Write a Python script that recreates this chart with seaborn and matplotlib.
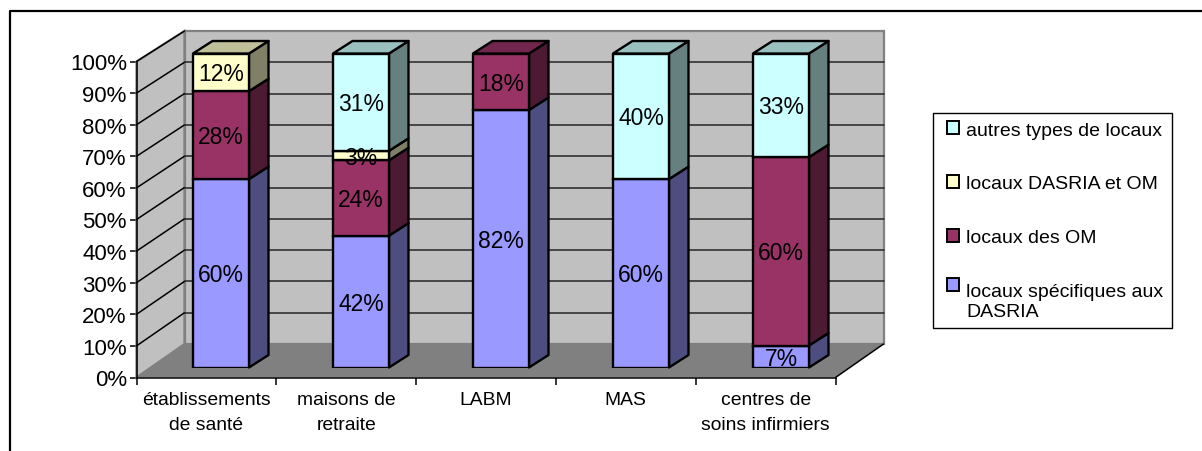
import matplotlib
matplotlib.use("Agg")
import matplotlib.pyplot as plt
from matplotlib.lines import Line2D
from matplotlib.patches import Patch, Polygon
import pandas as pd
import seaborn as sns

# Survey results: share of each storage-room type per kind of facility
categories = ["établissements\nde santé", "maisons de\nretraite", "LABM", "MAS",
              "centres de\nsoins infirmiers"]
specifiques = [60, 42, 82, 60, 7]
locaux_om = [28, 24, 18, 0, 60]
dasria_om = [12, 3, 0, 0, 0]
autres = [0, 31, 0, 40, 33]

series_names = ["locaux spécifiques aux\nDASRIA", "locaux des OM",
                "locaux DASRIA et OM", "autres types de locaux"]
series_values = [specifiques, locaux_om, dasria_om, autres]
front_colors = ["#9999FF", "#993366", "#FFFFCC", "#CCFFFF"]
side_colors = ["#4D4D80", "#4D1A33", "#808066", "#668080"]
top_colors = ["#7373BF", "#73264D", "#BFBF99", "#99BFBF"]
y_ticks = list(range(0, 101, 10))

W, H = 1202, 452
sns.set_theme(style="white")
plt.rcParams["font.family"] = ["Liberation Sans", "DejaVu Sans"]


def box(left, top, right, bottom):
    """Axes rectangle from pixel edges measured from the top-left corner."""
    return [left / W, 1 - bottom / H, (right - left) / W, (bottom - top) / H]


fig = plt.figure(figsize=(W / 100, H / 100), dpi=100, facecolor="white")
# Outer frame: only the top and left edges fall inside the canvas
fig.add_artist(Line2D([10 / W, 10 / W, 1], [0, 1 - 12 / H, 1 - 12 / H], color="black",
                      linewidth=1.6, transform=fig.transFigure))

# Front plane of the 3D box: carries the axes, ticks and walls
frame = fig.add_axes(box(136.5, 62.5, 835.5, 378.5), facecolor="none")
frame.set_xlim(0, 5)
frame.set_ylim(0, 100)
px = 5 / 699
py = 100 / 316
depth_x = 48 * px
depth_y = 33.5 * py
back_span = 313 / 316

wall_kw = dict(clip_on=False, zorder=1)
frame.add_patch(Polygon([(0, 0), (0, 100), (depth_x, depth_y + 100 * back_span), (depth_x, depth_y)],
                        facecolor="#C0C0C0", edgecolor="#808080", linewidth=1.6, **wall_kw))
frame.add_patch(Polygon([(depth_x, depth_y), (depth_x, depth_y + 100 * back_span),
                         (5 + depth_x, depth_y + 100 * back_span), (5 + depth_x, depth_y)],
                        facecolor="#C0C0C0", edgecolor="#808080", linewidth=1.6, **wall_kw))
frame.add_patch(Polygon([(0, 0), (depth_x, depth_y), (5 + depth_x, depth_y), (5, 0)],
                        facecolor="#808080", edgecolor="none", **wall_kw))
frame.plot([5, 5 + depth_x], [0, depth_y], color="black", lw=1.1, clip_on=False, zorder=2)

for tick in y_ticks[1:]:
    back_y = depth_y + tick * back_span
    frame.plot([0, depth_x], [tick, back_y], color="black", lw=1.1, clip_on=False, zorder=2)
    if tick < 100:
        frame.plot([depth_x, 5 + depth_x], [back_y, back_y], color="#262626", lw=1.1,
                   clip_on=False, zorder=2)

frame.set_yticks(y_ticks, [f"{t}%" for t in y_ticks], fontsize=16, color="black")
frame.set_xticks(range(6), [""] * 6)
frame.set_xticks([i + 0.5 for i in range(5)], categories, minor=True, fontsize=13.9, color="black",
                 linespacing=1.55)
frame.tick_params(axis="y", length=5, width=1.1, pad=2, color="black", left=True)
frame.tick_params(axis="x", which="major", length=5, width=1.1, color="black", bottom=True)
frame.tick_params(axis="x", which="minor", length=0, pad=10)
sns.despine(ax=frame, top=True, right=True)
for side in ("left", "bottom"):
    frame.spines[side].set_color("black")
    frame.spines[side].set_linewidth(1.1)
    frame.spines[side].set_zorder(3)

# Plane holding the bar fronts, set back from the axes plane
ax = fig.add_axes(box(151, 54.5, 851, 368.5), facecolor="none")
table = pd.DataFrame({"categorie": categories, **dict(zip(series_names, series_values))})
long_table = table.melt("categorie", var_name="type", value_name="part")
running = [0] * len(categories)
bases = []
for values in series_values:
    bases.extend(running)
    running = [r + v for r, v in zip(running, values)]
long_table["base"] = bases

bar_width = 56 / 140
off_x = 19.5 / 140
off_y = 12.5 * 100 / 314

for name, front, side, top in zip(series_names, front_colors, side_colors, top_colors):
    rows = long_table[(long_table["type"] == name) & (long_table["part"] > 0)]
    sns.barplot(data=rows, x="categorie", y="part", order=categories, color=front, saturation=1,
                width=bar_width, bottom=rows["base"].to_numpy(), errorbar=None,
                edgecolor="black", linewidth=1.7, ax=ax, zorder=6)
    for _, row in rows.iterrows():
        i = categories.index(row["categorie"])
        right = i + bar_width / 2
        lo, hi = row["base"], row["base"] + row["part"]
        ax.add_patch(Polygon([(right, lo), (right + off_x, lo + off_y),
                              (right + off_x, hi + off_y), (right, hi)],
                             facecolor=side, edgecolor="black", linewidth=1.7,
                             joinstyle="round", clip_on=False, zorder=5))
        if hi == 100:
            left = i - bar_width / 2
            ax.add_patch(Polygon([(left, hi), (left + off_x, hi + off_y),
                                  (right + off_x, hi + off_y), (right, hi)],
                                 facecolor=top, edgecolor="black", linewidth=1.7,
                                 joinstyle="round", clip_on=False, zorder=5))
        ax.annotate(f"{row['part']}%", (i, (lo + hi) / 2), xytext=(0, -1.5),
                    textcoords="offset pixels", ha="center", va="center",
                    fontsize=16.5, color="black", zorder=7)

ax.set_xlim(-0.5, 4.5)
ax.set_ylim(0, 100)
ax.set_xlabel("")
ax.set_ylabel("")
ax.set_xticks([])
ax.set_yticks([])
sns.despine(ax=ax, left=True, bottom=True)

# Legend reads top to bottom in reverse stacking order
handles = [Patch(facecolor=c, edgecolor="black", linewidth=1.4, label=n)
           for c, n in zip(front_colors[::-1], series_names[::-1])]
legend = fig.legend(handles=handles, loc="upper left", bbox_to_anchor=(933 / W, 1 - 114 / H),
                    bbox_transform=fig.transFigure, fontsize=14, frameon=True, fancybox=False,
                    edgecolor="black", framealpha=1, labelspacing=1.89, handlelength=0.62,
                    handleheight=0.62, handletextpad=0.65, borderpad=0.43, borderaxespad=0,
                    labelcolor="black")
legend.get_frame().set_linewidth(1.0)
for swatch in legend.get_patches():
    swatch.set_x(swatch.get_x() + 4)
# Swatch of the two-line entry sits level with its first line
multiline = legend.get_patches()[-1]
multiline.set_y(multiline.get_y() + 12)

fig.savefig("out.png", dpi=100)
